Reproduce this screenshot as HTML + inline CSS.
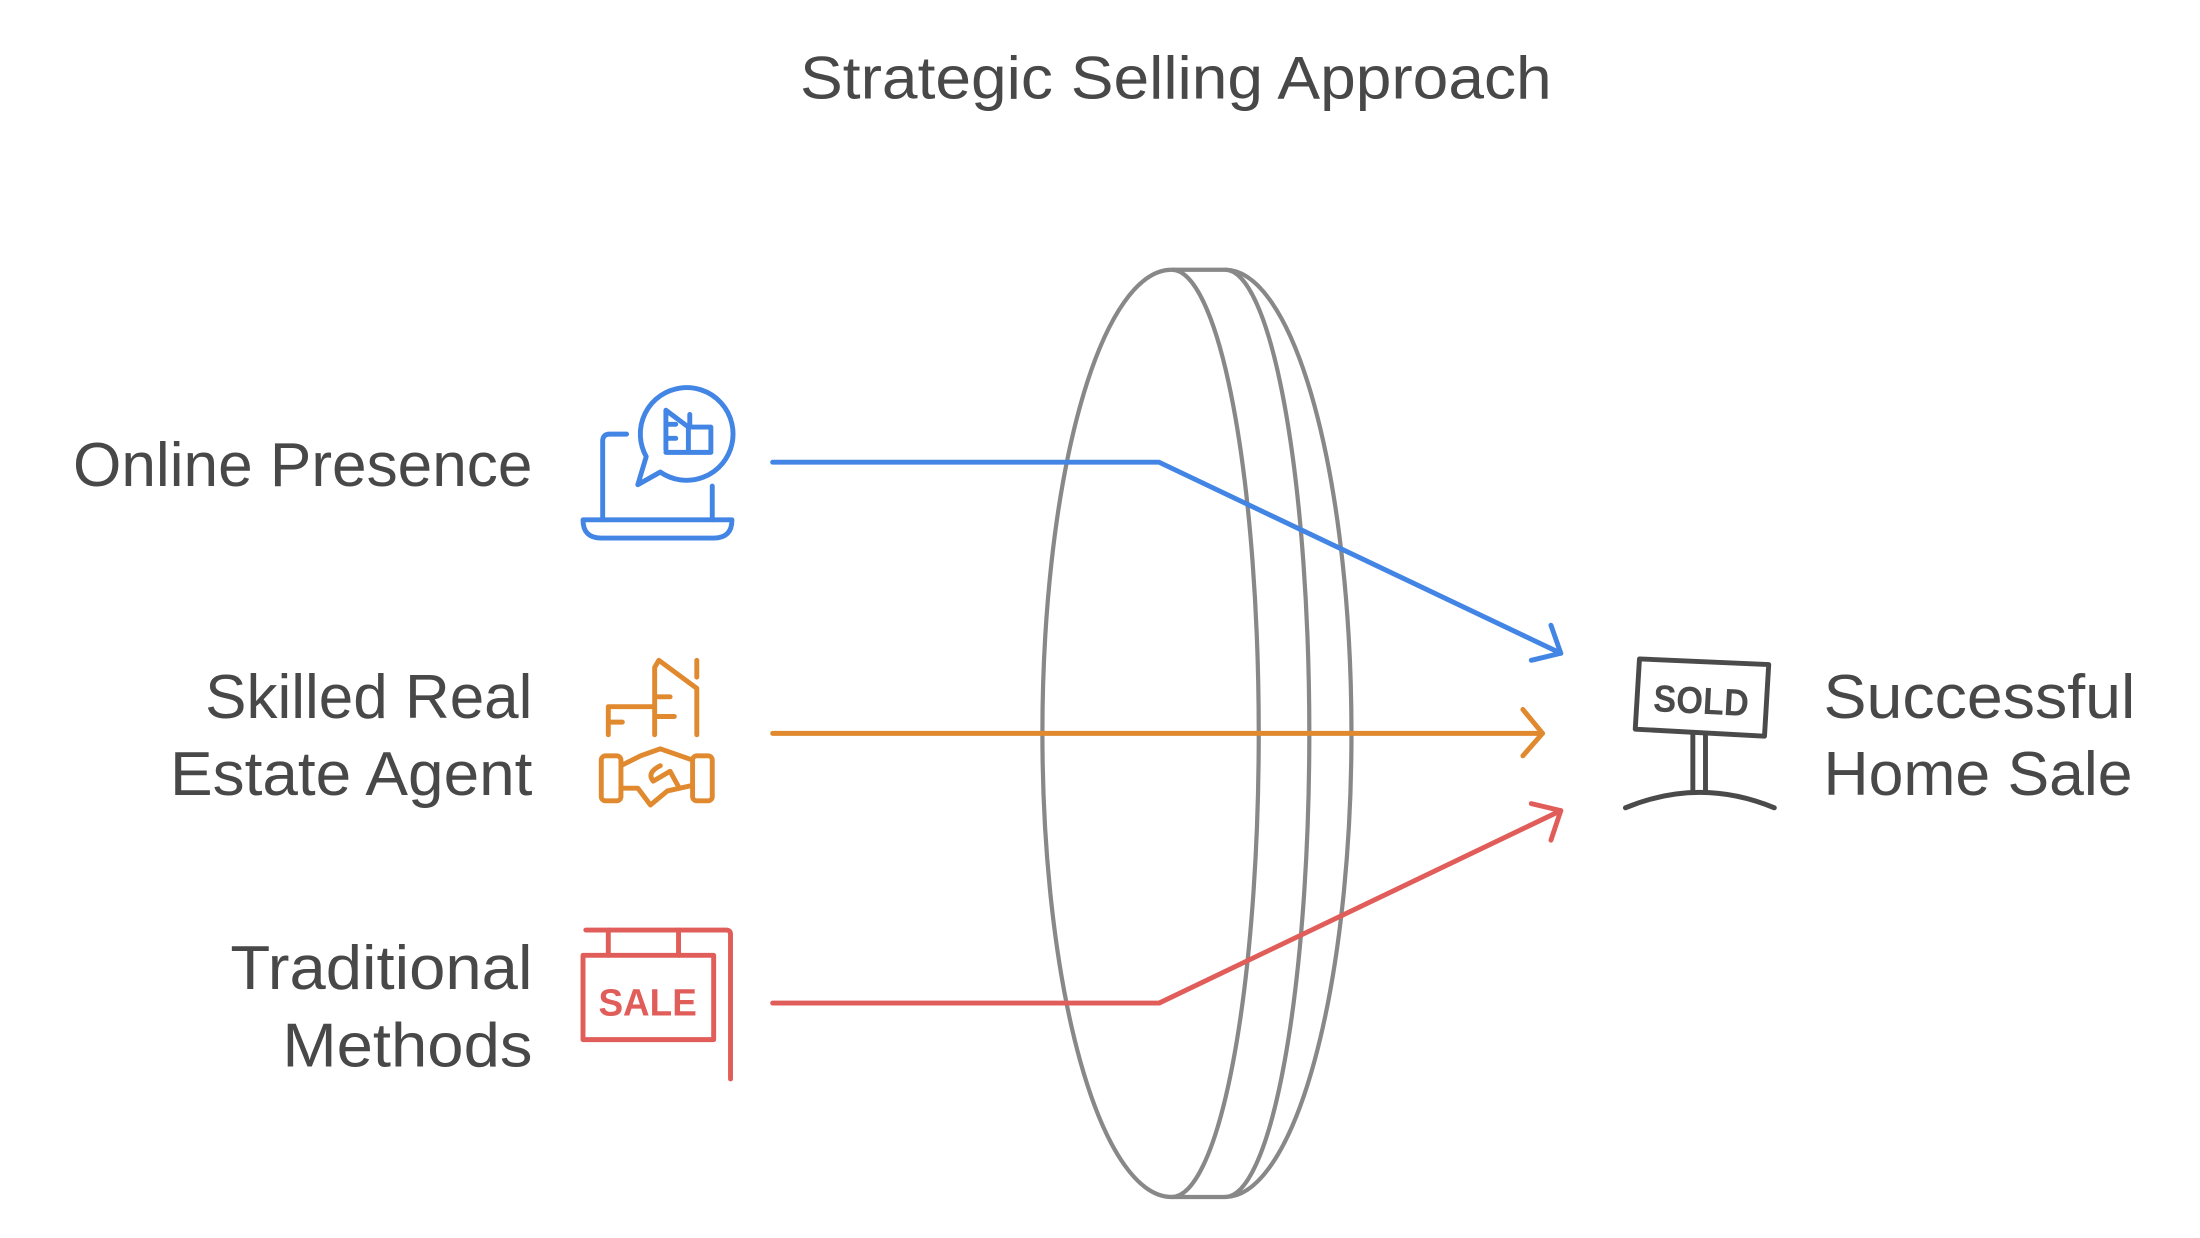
<!DOCTYPE html>
<html><head><meta charset="utf-8"><style>
html,body{margin:0;padding:0;background:#fff;}
svg{display:block;}
text{font-family:"Liberation Sans",sans-serif;fill:#484848;}
</style></head><body>
<svg width="2200" height="1238" viewBox="0 0 1566 881.2" preserveAspectRatio="none" xmlns="http://www.w3.org/2000/svg">
<rect width="1566" height="882" fill="#fff"/>
<text x="837" y="70" font-size="43" text-anchor="middle" textLength="535" lengthAdjust="spacingAndGlyphs">Strategic Selling Approach</text>

<!-- lens -->
<g fill="none" stroke="#888" stroke-width="3">
<path d="M834,192 A92,330 0 0 0 834,852"/>
<path d="M834,192 A62,330 0 0 1 834,852"/>
<path d="M872,192 A60,330 0 0 1 872,852"/>
<path d="M872,192 A90,330 0 0 1 872,852"/>
<path d="M834,192 H872 M834,852 H872"/>
</g>

<!-- connectors -->
<g fill="none" stroke-width="3.5" stroke-linecap="round" stroke-linejoin="round">
<path d="M550,329 H825 L1111,465" stroke="#4285e4"/>
<path d="M1090,470 L1111,465 L1104,445" stroke="#4285e4"/>
<path d="M550,522 H1098" stroke="#e0892f"/>
<path d="M1084,505 L1098,522 L1084,538" stroke="#e0892f"/>
<path d="M550,714 H825 L1111,577" stroke="#e05d5a"/>
<path d="M1090,572 L1111,577 L1104,598" stroke="#e05d5a"/>
</g>

<!-- labels -->
<g font-size="44" text-anchor="end">
<text x="379" y="346" textLength="327" lengthAdjust="spacingAndGlyphs">Online Presence</text>
<text x="379" y="511" textLength="233" lengthAdjust="spacingAndGlyphs">Skilled Real</text>
<text x="379" y="566" textLength="258" lengthAdjust="spacingAndGlyphs">Estate Agent</text>
<text x="379" y="704" textLength="215" lengthAdjust="spacingAndGlyphs">Traditional</text>
<text x="379" y="759" textLength="178" lengthAdjust="spacingAndGlyphs">Methods</text>
</g>
<g font-size="44">
<text x="1298" y="511" textLength="222" lengthAdjust="spacingAndGlyphs">Successful</text>
<text x="1298" y="566" textLength="220" lengthAdjust="spacingAndGlyphs">Home Sale</text>
</g>

<!-- laptop icon -->
<g fill="none" stroke="#4285e4" stroke-width="3.5" stroke-linecap="round" stroke-linejoin="round">
<path d="M415,370 H521 Q521,383 508,383 H428 Q415,383 415,370 Z"/>
<path d="M429,370 V314 Q429,309 434,309 H446"/>
<path d="M507,346 V370"/>
<path d="M460,325 A33,33 0 1 1 470,336 L454,345 Z"/>
<path d="M474,320 V292 L490,304 H506 V322 H474 M490,304 V322 M474,302 H481 M474,312 H481 M491,295 V304"/>
</g>

<!-- handshake icon -->
<g fill="none" stroke="#e0892f" stroke-width="3.5" stroke-linecap="round" stroke-linejoin="round">
<path d="M433,523 V503 H466 M433,514 H443 M466,523 V475 L469,470 L496,490 V523 M466,496 H477 M466,510 H480 M496,470 V482"/>
<rect x="428" y="538" width="14" height="32" rx="3"/>
<rect x="493" y="538" width="14" height="32" rx="3"/>
<path d="M442,545 L456,538 L470,533 L493,541 M442,561 L454,561 L463,573 L475,563 L493,559 M470,545 Q460,550 465,556 L477,549 L483,560"/>
</g>

<!-- sale sign icon -->
<g fill="none" stroke="#e05d5a" stroke-width="3.5" stroke-linecap="round" stroke-linejoin="round">
<path d="M417,662 H517 Q520,662 520,665 V768"/>
<path d="M433,662 V680 M483,662 V680"/>
<rect x="415" y="680" width="93" height="60"/>
</g>
<text x="461" y="723" font-size="27" font-weight="bold" text-anchor="middle" style="fill:#e05d5a" textLength="70" lengthAdjust="spacingAndGlyphs">SALE</text>

<!-- sold sign icon -->
<g fill="none" stroke="#4a4a4a" stroke-width="3.5" stroke-linecap="round" stroke-linejoin="round">
<path d="M1167,469 L1259,473 L1256,524 L1164,519 Z"/>
<path d="M1205,522 V563 M1214,523 V563"/>
<path d="M1157,575 Q1210,553 1263,575"/>
</g>
<text x="1211" y="508" font-size="27" font-weight="bold" text-anchor="middle" style="fill:#4a4a4a" textLength="68" lengthAdjust="spacingAndGlyphs" transform="rotate(3 1211 497)">SOLD</text>
</svg>
</body></html>
